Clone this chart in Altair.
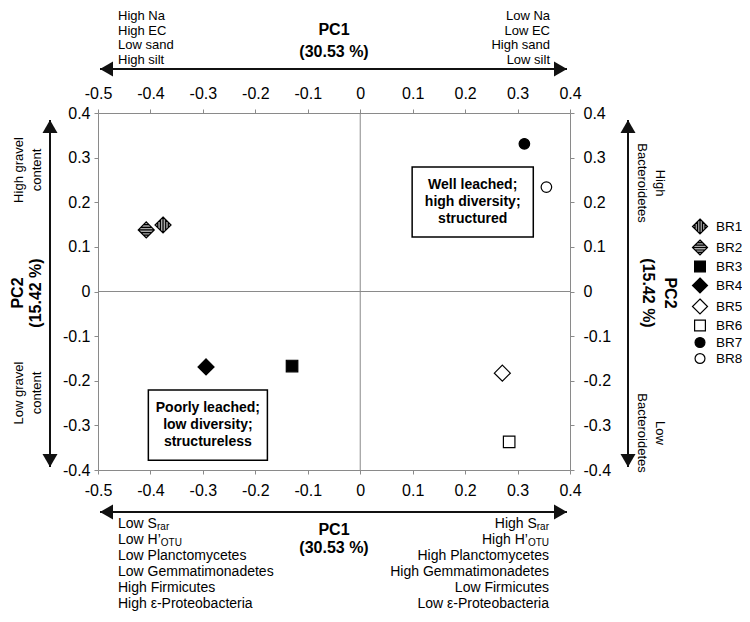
import altair as alt
import pandas as pd

# ---------------- data ----------------
samples = ["BR1", "BR2", "BR3", "BR4", "BR5", "BR6", "BR7", "BR8"]
pc1 = [-0.376, -0.408, -0.130, -0.294, 0.271, 0.284, 0.313, 0.355]
pc2 = [0.149, 0.138, -0.167, -0.169, -0.183, -0.337, 0.331, 0.234]

x_ticks = [-0.5, -0.4, -0.3, -0.2, -0.1, 0.0, 0.1, 0.2, 0.3, 0.4]
y_ticks = [-0.4, -0.3, -0.2, -0.1, 0.0, 0.1, 0.2, 0.3, 0.4]

pc1_title = ["PC1", "(30.53 %)"]
pc2_title = ["PC2", "(15.42 %)"]
top_left = ["High Na", "High EC", "Low sand", "High silt"]
top_right = ["Low Na", "Low EC", "High sand", "Low silt"]
bottom_left = ["Low S", "Low H’", "Low Planctomycetes", "Low Gemmatimonadetes",
               "High Firmicutes", "High ε-Proteobacteria"]
bottom_right = ["High S", "High H’", "High Planctomycetes", "High Gemmatimonadetes",
                "Low Firmicutes", "Low ε-Proteobacteria"]
subscripts = ["rar", "OTU"]
left_side = [["High gravel", "content"], ["Low gravel", "content"]]
right_side = [["High", "Bacteroidetes"], ["Low", "Bacteroidetes"]]
box_texts = ["Well leached;\nhigh diversity;\nstructured",
             "Poorly leached;\nlow diversity;\nstructureless"]

# ---------------- styles / layout ----------------
FONT = "Liberation Sans, Arial, sans-serif"
GRAY = "#8a8a8a"
W, H = 472, 357

DIAMOND = "M0,-1L1,0L0,1L-1,0Z"
V_STRIPES = DIAMOND + ("M-0.66,-0.34L-0.66,0.34M-0.33,-0.67L-0.33,0.67M0,-1L0,1"
                       "M0.33,-0.67L0.33,0.67M0.66,-0.34L0.66,0.34")
H_STRIPES = DIAMOND + ("M-0.34,-0.66L0.34,-0.66M-0.67,-0.33L0.67,-0.33M-1,0L1,0"
                       "M-0.67,0.33L0.67,0.33M-0.34,0.66L0.34,0.66")
SQUARE = "M-0.72,-0.72H0.72V0.72H-0.72Z"
CIRCLE = "M0.66,0A0.66,0.66,0,1,1,-0.66,0A0.66,0.66,0,1,1,0.66,0Z"
shape_range = [V_STRIPES, H_STRIPES, SQUARE, DIAMOND, DIAMOND, SQUARE, CIRCLE, CIRCLE]
fill_range = ["#a8a8a8", "#a8a8a8", "#000000", "#000000", "#ffffff", "#ffffff", "#000000", "#ffffff"]
stroke_range = ["#000000"] * 8

xs = alt.Scale(domain=[-0.5, 0.4], nice=False, zero=False)
ys = alt.Scale(domain=[-0.4, 0.4], nice=False, zero=False)
LBL = "datum.value == 0 ? '0' : toString(round(datum.value * 10) / 10)"


def axis(orient, values, pad):
    return alt.Axis(orient=orient, values=values, labelExpr=LBL, title=None, grid=False,
                    domainColor=GRAY, tickColor=GRAY, tickSize=4, labelFont=FONT,
                    labelFontSize=16, labelColor="black", labelPadding=pad,
                    labelFlush=False, labelOverlap=False)


pts = pd.DataFrame({"sample": samples, "pc1": pc1, "pc2": pc2})
leg = dict(title=None, orient="none", legendX=593.5, legendY=105, labelFont=FONT,
           labelFontSize=13.5, labelColor="black", symbolSize=225, rowPadding=0,
           labelOffset=7.5, padding=0, symbolStrokeWidth=1.2)

points = alt.Chart(pts).mark_point(filled=True, size=256, strokeWidth=1.2, opacity=1).encode(
    x=alt.X("pc1:Q", scale=xs, axis=axis("bottom", x_ticks, 8)),
    y=alt.Y("pc2:Q", scale=ys, axis=axis("left", y_ticks, 4)),
    shape=alt.Shape("sample:N", scale=alt.Scale(domain=samples, range=shape_range),
                    legend=alt.Legend(**leg)),
    fill=alt.Fill("sample:N", scale=alt.Scale(domain=samples, range=fill_range),
                  legend=alt.Legend(**leg)),
    stroke=alt.Stroke("sample:N", scale=alt.Scale(domain=samples, range=stroke_range),
                      legend=alt.Legend(**leg)),
)

axes2 = alt.Chart(pts).mark_point(opacity=0).encode(
    x=alt.X("pc1:Q", scale=xs, axis=axis("top", x_ticks, 8)),
    y=alt.Y("pc2:Q", scale=ys, axis=axis("right", y_ticks, 9)),
)

zero = pd.DataFrame({"z": [0.0]})
vzero = alt.Chart(zero).mark_rule(color=GRAY, strokeWidth=1).encode(
    x=alt.X("z:Q", scale=xs, axis=None))
hzero = alt.Chart(zero).mark_rule(color=GRAY, strokeWidth=1).encode(
    y=alt.Y("z:Q", scale=ys, axis=None))

# annotation boxes (data coordinates)
box_df = pd.DataFrame({
    "t": box_texts,
    "x1": [0.099, -0.404], "x2": [0.330, -0.177],
    "y1": [0.279, -0.221], "y2": [0.122, -0.378],
    "cx": [0.2145, -0.2905], "cy": [0.2005, -0.2995],
})
box_rect = alt.Chart(box_df).mark_rect(fill="white", stroke="black", strokeWidth=1.5).encode(
    x=alt.X("x1:Q", scale=xs, axis=None), x2="x2:Q",
    y=alt.Y("y1:Q", scale=ys, axis=None), y2="y2:Q")
box_txt = alt.Chart(box_df).mark_text(font=FONT, fontSize=14, fontWeight="bold",
                                      lineBreak="\n", lineHeight=17, color="black",
                                      dy=-17).encode(
    x=alt.X("cx:Q", scale=xs, axis=None), y=alt.Y("cy:Q", scale=ys, axis=None), text="t:N")


def text_layer(items, **mk):
    df = pd.DataFrame(items, columns=["t", "px", "py"])
    base = dict(font=FONT, color="black", baseline="middle")
    base.update(mk)
    return alt.Chart(df).mark_text(**base).encode(
        x=alt.X("px:Q", scale=None, axis=None),
        y=alt.Y("py:Q", scale=None, axis=None),
        text="t:N")


top_y = [-97, -82.5, -68, -53.5]
bot_y = [411, 427, 443, 459, 475, 491]

layers = [vzero, hzero, box_rect, box_txt, axes2, points]

# PC1 titles (top & bottom)
layers.append(text_layer([(pc1_title[0], 236, -83), (pc1_title[1], 236, -61),
                          (pc1_title[0], 236, 417), (pc1_title[1], 236, 435)],
                         fontSize=16, fontWeight="bold", align="center"))
# top blocks
layers.append(text_layer([(t, 20, y) for t, y in zip(top_left, top_y)], fontSize=13, align="left"))
layers.append(text_layer([(t, 452, y) for t, y in zip(top_right, top_y)], fontSize=13, align="right"))
# bottom blocks
layers.append(text_layer([(t, 20, y) for t, y in zip(bottom_left, bot_y)], fontSize=14, align="left"))
br_x = [438.8, 429.9, 451, 451, 451, 451]
layers.append(text_layer([(t, x, y) for t, x, y in zip(bottom_right, br_x, bot_y)],
                         fontSize=14, align="right"))
# subscripts
layers.append(text_layer([(subscripts[0], 59, bot_y[0] + 3), (subscripts[1], 62.8, bot_y[1] + 3)],
                         fontSize=10, align="left"))
layers.append(text_layer([(subscripts[0], 451, bot_y[0] + 3), (subscripts[1], 451, bot_y[1] + 3)],
                         fontSize=10, align="right"))
# PC2 titles (left & right, rotated)
layers.append(text_layer([(pc2_title[0], -80, 180), (pc2_title[1], -62, 180)],
                         fontSize=16, fontWeight="bold", align="center", angle=270))
layers.append(text_layer([(pc2_title[0], 572, 180), (pc2_title[1], 550, 180)],
                         fontSize=16, fontWeight="bold", align="center", angle=90))
# side descriptors
layers.append(text_layer([(left_side[0][0], -79, 57), (left_side[0][1], -61, 57),
                          (left_side[1][0], -79, 280), (left_side[1][1], -61, 280)],
                         fontSize=13, align="center", angle=270))
layers.append(text_layer([(right_side[0][0], 562, 70), (right_side[0][1], 544, 70),
                          (right_side[1][0], 562, 320), (right_side[1][1], 544, 320)],
                         fontSize=13, align="center", angle=90))

# arrows
seg = pd.DataFrame({"x": [2, 2, -48, 530], "x2": [469, 469, -48, 530],
                    "y": [-44, 399, 7, 7], "y2": [-44, 399, 354, 354]})
layers.append(alt.Chart(seg).mark_rule(color="#111111", strokeWidth=2).encode(
    x=alt.X("x:Q", scale=None, axis=None), x2="x2:Q",
    y=alt.Y("y:Q", scale=None, axis=None), y2="y2:Q"))
heads = pd.DataFrame({
    "s": ["triangle-left", "triangle-left", "triangle-right", "triangle-right",
          "triangle-up", "triangle-up", "triangle-down", "triangle-down"],
    "x": [8.5, 8.5, 462.5, 462.5, -48, 530, -48, 530],
    "y": [-44, 399, -44, 399, 13.5, 13.5, 347.5, 347.5]})
layers.append(alt.Chart(heads).mark_point(filled=True, color="#111111", size=225, opacity=1).encode(
    x=alt.X("x:Q", scale=None, axis=None), y=alt.Y("y:Q", scale=None, axis=None),
    shape=alt.Shape("s:N", scale=None, legend=None)))

chart = alt.layer(*layers).resolve_axis(x="independent", y="independent").properties(
    width=W, height=H,
    autosize=alt.AutoSizeParams(type="none"),
    padding={"left": 90, "top": 105, "right": 172, "bottom": 144},
).configure_view(stroke=None)

chart.save("out.html", embed_options={"renderer": "svg", "actions": False})
